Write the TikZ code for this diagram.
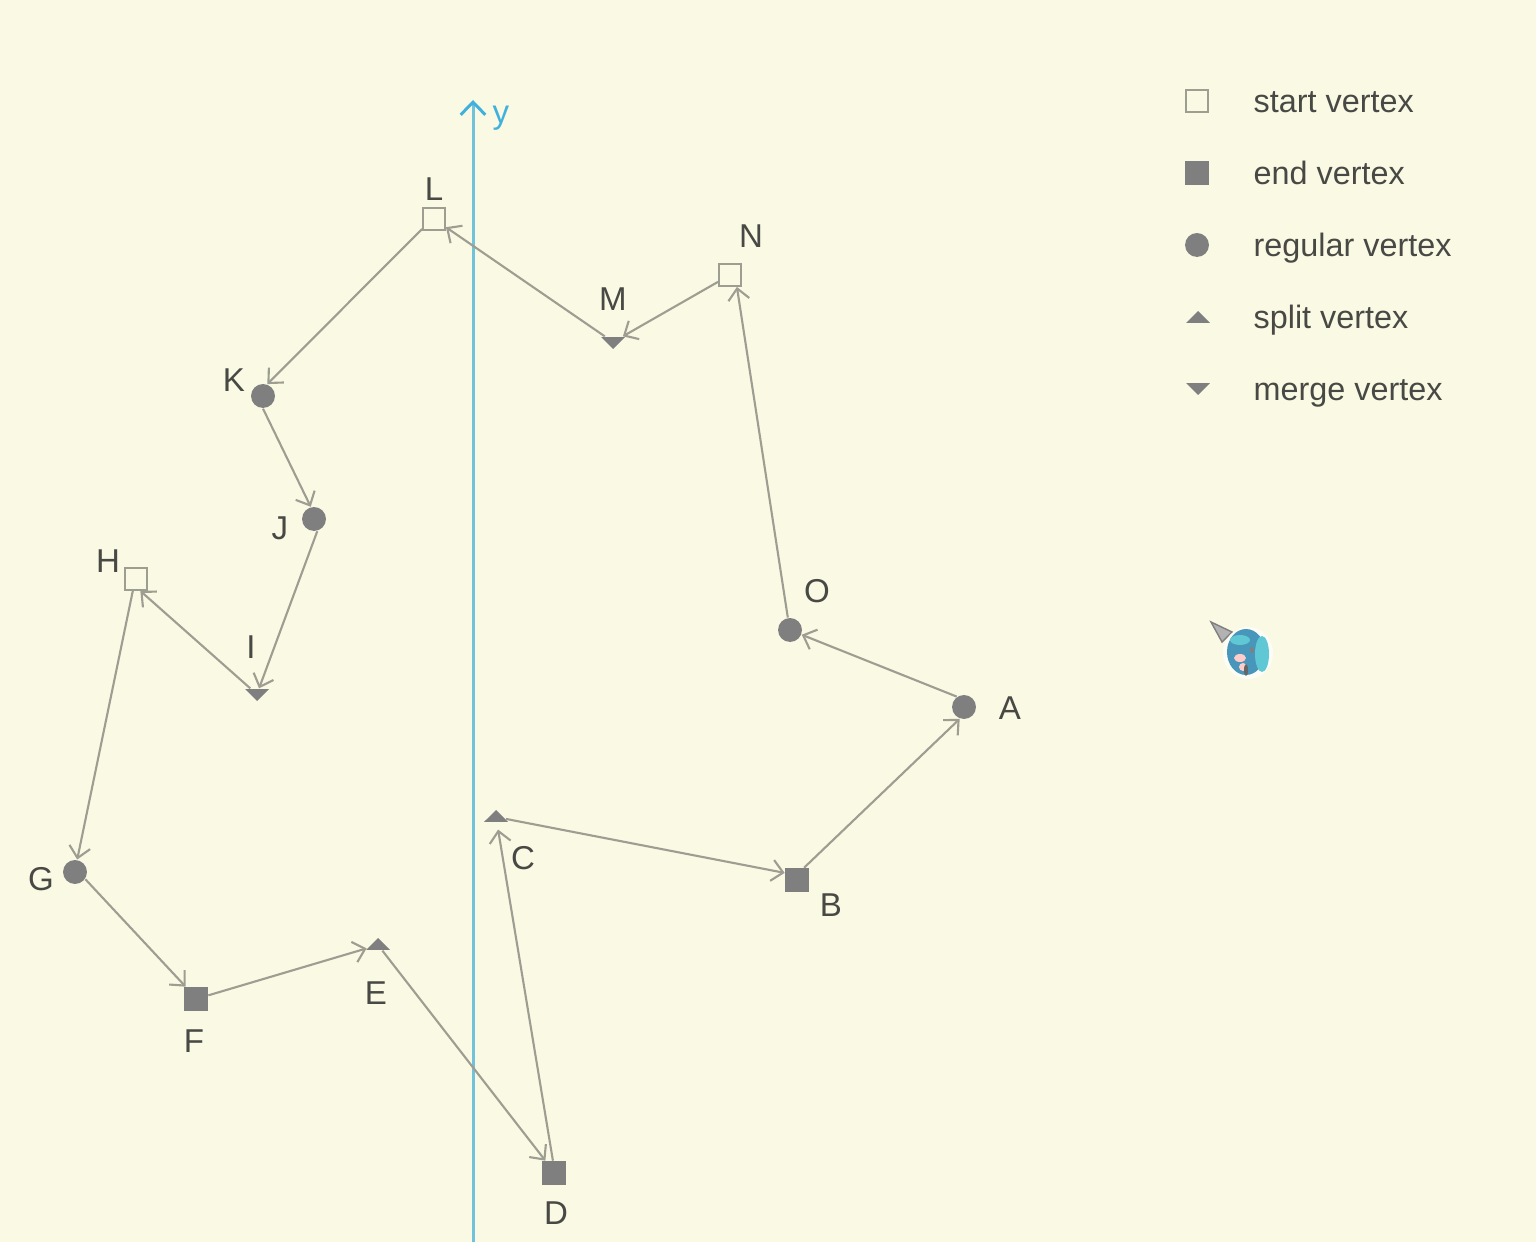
\documentclass[tikz,border=0pt]{standalone}
\usepackage{fontspec}
\setmainfont{Liberation Sans}
\usetikzlibrary{arrows.meta,shapes.geometric}
\definecolor{paper}{RGB}{250,249,228}
\definecolor{edgegray}{RGB}{158,157,146}
\definecolor{vertexgray}{RGB}{128,127,128}
\definecolor{textgray}{RGB}{72,72,68}
\definecolor{axisblue}{RGB}{112,195,218}
\definecolor{ylabel}{RGB}{64,176,220}
\definecolor{mikubody}{RGB}{72,150,185}
\definecolor{mikuhair}{RGB}{95,200,212}
\begin{document}
\begin{tikzpicture}[x=0.01cm,y=-0.01cm,
    startv/.style={rectangle,draw=edgegray,line width=0.6pt,fill=paper,inner sep=0pt,minimum size=6.2pt},
    endv/.style={rectangle,fill=vertexgray,inner sep=0pt,minimum size=6.6pt},
    regularv/.style={circle,fill=vertexgray,inner sep=0pt,minimum size=6.8pt},
    splitv/.style={isosceles triangle,isosceles triangle apex angle=90,shape border rotate=90,fill=vertexgray,inner sep=0pt,minimum height=3.4pt},
    mergev/.style={isosceles triangle,isosceles triangle apex angle=90,shape border rotate=-90,fill=vertexgray,inner sep=0pt,minimum height=3.4pt},
    edge/.style={draw=edgegray,line width=0.6pt,-{Straight Barb[length=3.2pt,width=6pt]}},
    lab/.style={text=textgray,font=\fontsize{9.4}{11}\selectfont,inner sep=0pt},
    legend/.style={text=textgray,font=\fontsize{9.2}{11}\selectfont,inner sep=0pt,anchor=base west}]

\fill[paper] (0,0) rectangle (1536,1242);

\coordinate (axisbottom) at (473,1242);
\coordinate (axistop) at (473,100);
\draw[axisblue,line width=0.85pt,-{Straight Barb[length=3.6pt,width=7pt,color=ylabel]}] (axisbottom) -- (axistop);
\node[text=ylabel,font=\fontsize{9.4}{11}\selectfont,inner sep=0pt] (ylab) at (501,118) {y};

\node[regularv] (A) at (964,707) {};
\node[endv] (B) at (797,880) {};
\node[splitv] (C) at (496,817) {};
\node[endv] (D) at (554,1173) {};
\node[splitv] (E) at (378,945) {};
\node[endv] (F) at (196,999) {};
\node[regularv] (G) at (75,872) {};
\node[startv] (H) at (136,579) {};
\node[mergev] (I) at (257,694) {};
\node[regularv] (J) at (314,519) {};
\node[regularv] (K) at (263,396) {};
\node[startv] (L) at (434,219) {};
\node[mergev] (M) at (613,342) {};
\node[startv] (N) at (730,275) {};
\node[regularv] (O) at (790,630) {};

\draw[edge] (A.125) -- (O.-22);
\draw[edge] (O.100) -- (N.-60);
\draw[edge] (N) -- (M);
\draw[edge] (M) -- (L);
\draw[edge] (L.-140) -- (K.70);
\draw[edge] (K.-90) -- (J.105);
\draw[edge] (J.-75) -- (I.70);
\draw[edge] (I.140) -- (H.-70);
\draw[edge] (H.-105) -- (G.80);
\draw[edge] (G.-35) -- (F.130);
\draw[edge] (F) -- (E);
\draw[edge] (E) -- (D.125);
\draw[edge,shorten >=2pt] (D.95) -- (C);
\draw[edge] (C) -- (B.150);
\draw[edge] (B.60) -- (A.-110);

\node[lab] (labA) at (1010,708) {A};
\node[lab] (labB) at (831,905) {B};
\node[lab] (labC) at (523,858) {C};
\node[lab] (labD) at (556,1213) {D};
\node[lab] (labE) at (376,993) {E};
\node[lab] (labF) at (194,1041) {F};
\node[lab] (labG) at (41,879) {G};
\node[lab] (labH) at (108,561) {H};
\node[lab] (labI) at (251,647) {I};
\node[lab] (labJ) at (280,528) {J};
\node[lab] (labK) at (234,380) {K};
\node[lab] (labL) at (434,189) {L};
\node[lab] (labM) at (613,299) {M};
\node[lab] (labN) at (751,236) {N};
\node[lab] (labO) at (817,591) {O};

\node[startv] (keystart) at (1197,101) {};
\node[endv] (keyend) at (1197,173) {};
\node[regularv] (keyregular) at (1197,245) {};
\node[splitv] (keysplit) at (1198,318) {};
\node[mergev] (keymerge) at (1198,388) {};
\node[legend] (txtstart) at (1253,113) {start vertex};
\node[legend] (txtend) at (1253,185) {end vertex};
\node[legend] (txtregular) at (1253,257) {regular vertex};
\node[legend] (txtsplit) at (1253,329) {split vertex};
\node[legend] (txtmerge) at (1253,401) {merge vertex};

% mascot
\fill[vertexgray!60,draw=vertexgray,line width=0.4pt] (1211,622) -- (1232,632) -- (1222,642) -- cycle;
\fill[white!70!paper] (1248,653) ellipse (25 and 26);
\fill[mikubody] (1246,652) ellipse (19 and 23);
\fill[mikuhair] (1262,654) ellipse (7 and 18);
\fill[mikuhair] (1240,640) ellipse (10 and 5);
\fill[white!80!red] (1240,658) ellipse (6 and 4);
\fill[white!80!red] (1243,667) ellipse (4 and 4);
\fill[black!60] (1246,670) ellipse (2 and 6);
\fill[black!50] (1252,650) ellipse (2 and 3);

\end{tikzpicture}
\end{document}
